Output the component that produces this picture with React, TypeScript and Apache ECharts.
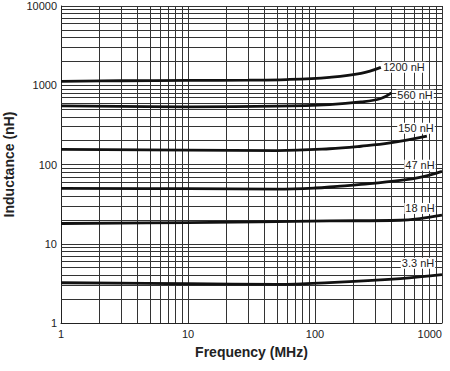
import React, { useEffect, useRef } from "react";
import * as echarts from "echarts";

const seriesNames = ["1200 nH", "560 nH", "150 nH", "47 nH", "18 nH", "3.3 nH"];

const s1200: [number, number][] = [[1, 1120], [3, 1140], [10, 1150], [30, 1160], [60, 1180], [130, 1260], [230, 1410], [330, 1680]];
const s560: [number, number][] = [[1, 550], [10, 535], [50, 545], [130, 570], [230, 615], [330, 680], [400, 800]];
const s150: [number, number][] = [[1, 155], [10, 152], [50, 150], [130, 158], [230, 170], [390, 187], [760, 228]];
const s47: [number, number][] = [[1, 50], [10, 49.5], [50, 49], [100, 50.5], [150, 53], [230, 56], [470, 63], [700, 70], [1000, 82]];
const s18: [number, number][] = [[1, 18], [10, 18.5], [130, 19.4], [470, 19.8], [670, 20.8], [1000, 22.9]];
const s3p3: [number, number][] = [[1, 3.22], [10, 3.13], [50, 3.08], [130, 3.24], [470, 3.64], [1000, 4.08]];

// label anchor positions (frequency, inductance) for the curve tags
const labelCoords: [number, number][] = [[502, 1692], [613, 750], [624, 287], [671, 98], [671, 27.9], [647, 5.68]];

const xMinorGrid = [2, 3, 4, 5, 6, 7, 8, 9, 20, 30, 40, 50, 60, 70, 80, 90, 200, 300, 400, 500, 600, 700, 800, 900];
const yMinorGrid = [
  2, 3, 4, 5, 6, 7, 8, 9,
  20, 30, 40, 50, 60, 70, 80, 90,
  200, 300, 400, 500, 600, 700, 800, 900,
  2000, 3000, 4000, 5000, 6000, 7000, 8000, 9000,
];

export default function App() {
  const ref = useRef<HTMLDivElement>(null);
  useEffect(() => {
    if (!ref.current) return;
    const chart = echarts.init(ref.current, undefined, { renderer: "svg" });
    const allData = [s1200, s560, s150, s47, s18, s3p3];
    const gridColor = "#333";
    const font = "Liberation Sans, Arial, sans-serif";
    const curveSeries = allData.map((d, i) => ({
      type: "line",
      name: seriesNames[i],
      data: d,
      smooth: 0.4,
      symbol: "none",
      z: 5,
      color: "#111",
      lineStyle: { color: "#111", width: 2.8 },
      itemStyle: { color: "#111" },
    }));
    const gridSeries = {
      type: "line",
      data: [],
      silent: true,
      z: 1,
      markLine: {
        symbol: "none",
        silent: true,
        animation: false,
        label: { show: false },
        lineStyle: { color: gridColor, width: 1, type: "solid" },
        data: [
          ...xMinorGrid.map((v) => ({ xAxis: v })),
          ...yMinorGrid.map((v) => ({ yAxis: v })),
        ],
      },
    };
    const fmt = (v: number) => String(Math.round(v));
    chart.setOption({
      animation: false,
      grid: { left: 61, right: 8, top: 6, bottom: 48, outerBoundsMode: "none", containLabel: false },
      xAxis: {
        type: "log",
        logBase: 10,
        min: 1,
        max: 1000,
        name: "Frequency (MHz)",
        nameLocation: "middle",
        nameGap: 22,
        nameTextStyle: { fontSize: 14, fontWeight: "bold", color: "#222", fontFamily: font },
        axisLine: { show: true, lineStyle: { color: "#222", width: 1 } },
        axisTick: { show: false },
        axisLabel: { fontSize: 11, color: "#222", fontFamily: font, margin: 5, alignMaxLabel: "right", formatter: fmt },
        splitLine: { show: true, lineStyle: { color: gridColor, width: 1 } },
      },
      yAxis: {
        type: "log",
        logBase: 10,
        min: 1,
        max: 10000,
        name: "Inductance (nH)",
        nameLocation: "middle",
        nameGap: 36,
        nameTextStyle: { fontSize: 14, fontWeight: "bold", color: "#222", fontFamily: font },
        axisLine: { show: true, lineStyle: { color: "#222", width: 1 } },
        axisTick: { show: false },
        axisLabel: { fontSize: 11, color: "#222", fontFamily: font, margin: 4, formatter: fmt },
        splitLine: { show: true, lineStyle: { color: gridColor, width: 1 } },
      },
      series: [gridSeries, ...curveSeries],
    } as any);
    const graphics = labelCoords.map((c, i) => {
      const p = chart.convertToPixel({ gridIndex: 0 }, c) as number[];
      return {
        type: "text",
        x: p[0],
        y: p[1],
        z: 100,
        style: {
          text: seriesNames[i],
          fill: "#222",
          font: `11px ${font}`,
          align: "center",
          verticalAlign: "middle",
          backgroundColor: "#fff",
          padding: [0, 1],
        },
      };
    });
    chart.setOption({ graphic: graphics } as any);
    return () => chart.dispose();
  }, []);
  return <div ref={ref} style={{ width: 450, height: 371, position: "absolute", left: 0, top: 0 }} />;
}
